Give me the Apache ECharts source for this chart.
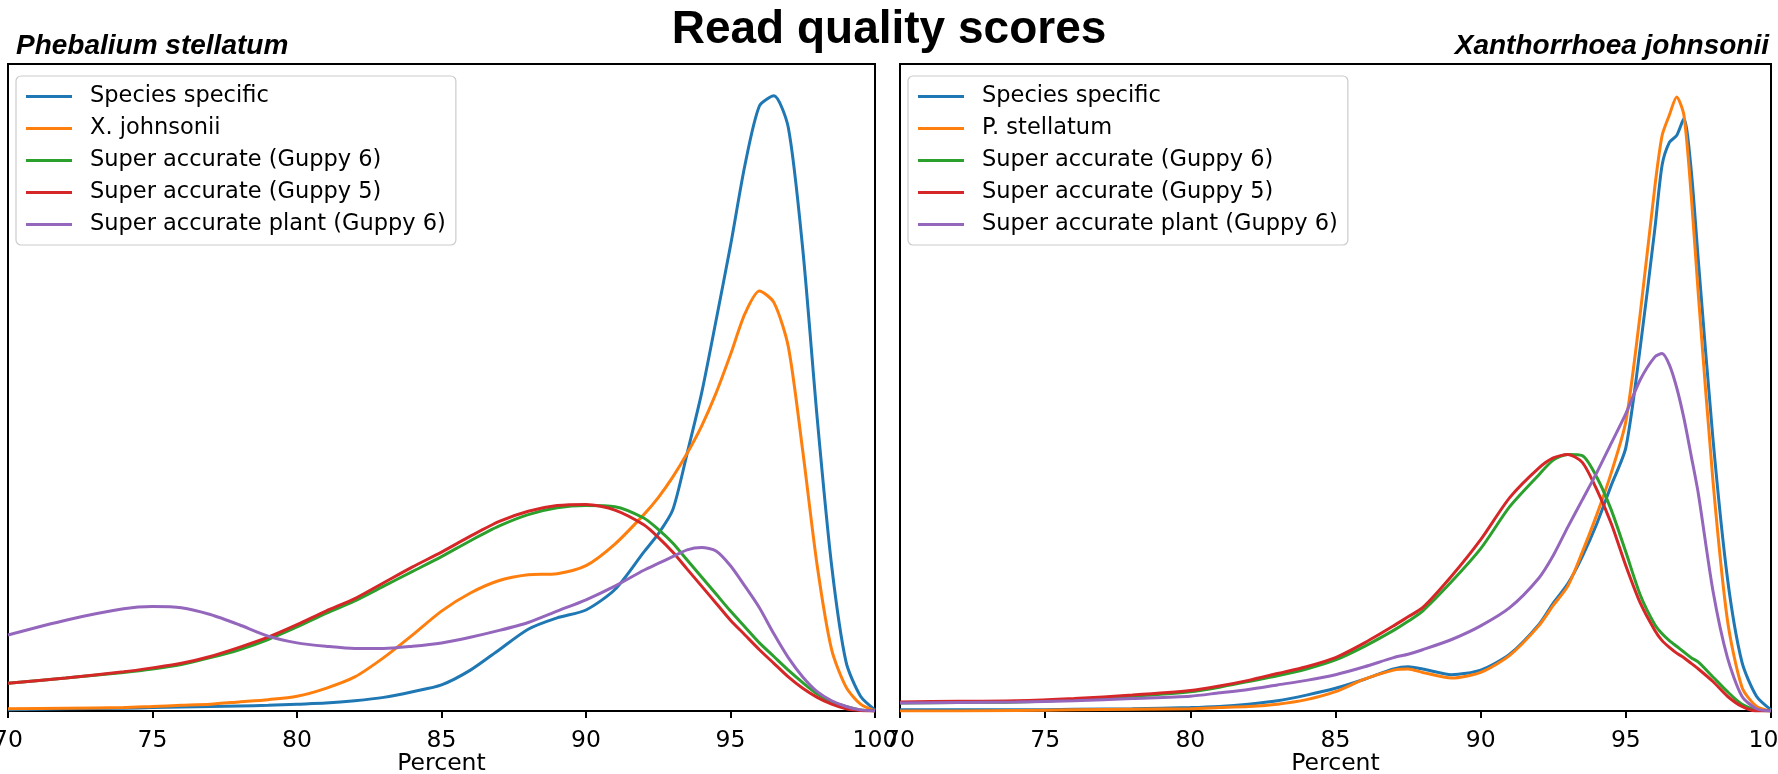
<!DOCTYPE html>
<html>
<head>
<meta charset="utf-8">
<script src="https://cdn.jsdelivr.net/npm/echarts@6/dist/echarts.min.js"></script>
<style>html,body{margin:0;padding:0;background:#fff;}#chart{width:1778px;height:774px;}</style>
</head>
<body>
<div id="chart"></div>
<script>
// ---- data ----
const mainTitle = "Read quality scores";
const leftTitle = "Phebalium stellatum";
const rightTitle = "Xanthorrhoea johnsonii";
const xTicks = [70, 75, 80, 85, 90, 95, 100];

const leftX = [70,72,74,75,76,77,78,79,80,81,82,83,84,85,86,87,88,89,90,91,92,92.5,93,93.5,94,94.5,95,95.5,96,96.5,97,97.5,98,98.5,99,99.5,100];
const leftSpecies = [0.01,0.02,0.025,0.03,0.035,0.04,0.045,0.05,0.06,0.07,0.09,0.12,0.17,0.23,0.36,0.54,0.72,0.82,0.89,1.07,1.40,1.56,1.77,2.27,2.8,3.44,4.1,4.81,5.33,5.42,5.14,4.07,2.58,1.28,0.43,0.13,0.01];
const leftXjohnsonii = [0.02,0.025,0.03,0.04,0.05,0.06,0.08,0.10,0.13,0.2,0.3,0.47,0.67,0.88,1.04,1.15,1.2,1.21,1.28,1.47,1.73,1.88,2.06,2.27,2.51,2.8,3.14,3.5,3.7,3.6,3.21,2.29,1.28,0.54,0.21,0.06,0.0];
const leftGuppy6 = [0.245,0.29,0.34,0.37,0.41,0.47,0.54,0.63,0.74,0.86,0.97,1.1,1.23,1.36,1.5,1.63,1.73,1.79,1.81,1.80,1.70,1.6,1.48,1.33,1.18,1.03,0.88,0.74,0.6,0.48,0.36,0.25,0.15,0.08,0.04,0.01,0];
const leftGuppy5 = [0.245,0.29,0.345,0.38,0.42,0.48,0.56,0.65,0.76,0.88,0.99,1.13,1.27,1.40,1.54,1.67,1.76,1.81,1.82,1.77,1.64,1.53,1.40,1.25,1.1,0.95,0.8,0.67,0.54,0.42,0.3,0.2,0.12,0.06,0.02,0.005,0];
const leftPlant = [0.67,0.8,0.9,0.92,0.91,0.85,0.76,0.66,0.6,0.57,0.55,0.55,0.57,0.6,0.65,0.71,0.78,0.88,0.98,1.1,1.24,1.3,1.36,1.42,1.44,1.41,1.28,1.1,0.91,0.68,0.47,0.3,0.17,0.09,0.04,0.01,0];

const rightX = [70,72,74,76,78,80,81,82,83,84,85,86,87,87.5,88,89,90,91,92,92.5,93,93.5,94,94.5,95,95.5,96,96.25,96.5,96.75,97,97.25,97.5,98,98.5,99,99.5,100];
const rightSpecies = [0.01,0.01,0.01,0.015,0.02,0.03,0.04,0.06,0.09,0.14,0.2,0.28,0.37,0.39,0.37,0.32,0.36,0.5,0.76,0.95,1.12,1.36,1.65,1.99,2.32,3.21,4.25,4.81,5.01,5.07,5.22,4.77,3.96,2.40,1.17,0.43,0.13,0.01];
const rightPstellatum = [0.0,0.0,0.005,0.01,0.015,0.02,0.03,0.04,0.06,0.10,0.17,0.28,0.36,0.37,0.34,0.29,0.34,0.49,0.75,0.93,1.10,1.40,1.73,2.10,2.55,3.51,4.62,5.07,5.25,5.41,5.25,4.55,3.66,2.03,0.80,0.21,0.04,0.0];
const rightGuppy6 = [0.07,0.075,0.08,0.1,0.13,0.17,0.21,0.26,0.31,0.37,0.45,0.57,0.71,0.79,0.88,1.14,1.43,1.8,2.08,2.21,2.26,2.25,2.06,1.77,1.40,1.02,0.76,0.68,0.62,0.57,0.52,0.47,0.43,0.3,0.17,0.06,0.01,0];
const rightGuppy5 = [0.08,0.085,0.09,0.11,0.14,0.18,0.22,0.27,0.33,0.39,0.47,0.6,0.75,0.83,0.91,1.19,1.51,1.88,2.14,2.23,2.26,2.19,1.95,1.65,1.28,0.95,0.71,0.62,0.56,0.51,0.47,0.42,0.37,0.26,0.13,0.04,0.0,0];
const rightPlant = [0.07,0.075,0.08,0.09,0.11,0.13,0.16,0.19,0.23,0.27,0.32,0.39,0.47,0.5,0.54,0.63,0.75,0.91,1.17,1.37,1.62,1.86,2.1,2.36,2.62,2.92,3.12,3.15,3.05,2.85,2.58,2.25,1.91,1.06,0.47,0.13,0.02,0];

const leftNames = ["Species specific","X. johnsonii","Super accurate (Guppy 6)","Super accurate (Guppy 5)","Super accurate plant (Guppy 6)"];
const rightNames = ["Species specific","P. stellatum","Super accurate (Guppy 6)","Super accurate (Guppy 5)","Super accurate plant (Guppy 6)"];
const colors = ["#1f77b4","#ff7f0e","#2ca02c","#d62728","#9467bd"];

// ---- build ----
const zip = (xs, ys) => xs.map((x, i) => [x, ys[i]]);
const leftData = [leftSpecies, leftXjohnsonii, leftGuppy6, leftGuppy5, leftPlant];
const rightData = [rightSpecies, rightPstellatum, rightGuppy6, rightGuppy5, rightPlant];

const tickFont = 'DejaVu Sans';
function xAxis(gi){
  return {
    type:'value', gridIndex: gi, min:70, max:100, interval:5,
    name:'Percent', nameLocation:'middle', nameGap:41, nameMoveOverlap:false,
    nameTextStyle:{fontFamily:tickFont, fontSize:23.5, color:'#000', verticalAlign:'top'},
    axisLine:{show:true, lineStyle:{color:'#000', width:2}},
    axisTick:{show:true, length:7, inside:false, lineStyle:{color:'#000', width:2}},
    axisLabel:{fontFamily:tickFont, fontSize:23.5, color:'#000', margin:18,
      formatter: v => xTicks.includes(v) ? String(v) : ''},
    splitLine:{show:false}
  };
}
function yAxis(gi){
  return {type:'value', gridIndex: gi, min:0, max:5.7,
    axisLine:{show:false}, axisTick:{show:false}, axisLabel:{show:false}, splitLine:{show:false}};
}
function legend(names, left){
  return {
    data: names, orient:'vertical', left: left, top: 76,
    icon:'rect', itemWidth:46, itemHeight:3, itemGap:9,
    padding:[9,10,9,10],
    backgroundColor:'rgba(255,255,255,0.8)', borderColor:'#cccccc', borderWidth:1.2, borderRadius:5,
    textStyle:{fontFamily:tickFont, fontSize:22.5, lineHeight:22, color:'#000', padding:[0,0,0,13]},
    selectedMode:false
  };
}
const series = [];
leftData.forEach((d, i) => series.push({
  name:leftNames[i], type:'line', xAxisIndex:0, yAxisIndex:0, data:zip(leftX, d),
  showSymbol:false, smooth:0.25, lineStyle:{width:3, color:colors[i]}, itemStyle:{color:colors[i]},
  animation:false, z: 2 + i
}));
rightData.forEach((d, i) => series.push({
  name:rightNames[i], type:'line', xAxisIndex:1, yAxisIndex:1, data:zip(rightX, d),
  showSymbol:false, smooth:0.25, lineStyle:{width:3, color:colors[i]}, itemStyle:{color:colors[i]},
  animation:false, z: 2 + i
}));

const chart = echarts.init(document.getElementById('chart'), null, {renderer:'canvas'});
chart.setOption({
  animation:false,
  backgroundColor:'#fff',
  title:[
    {text:mainTitle, left:'center', top:2, textStyle:{fontFamily:'Liberation Sans', fontWeight:'bold', fontSize:46, color:'#000'}},
    {text:leftTitle, left:11, top:27, textStyle:{fontFamily:'Liberation Sans', fontWeight:'bold', fontStyle:'italic', fontSize:28, color:'#000'}},
    {text:rightTitle, right:4, top:27, textStyle:{fontFamily:'Liberation Sans', fontWeight:'bold', fontStyle:'italic', fontSize:28, color:'#000'}}
  ],
  legend:[legend(leftNames, 16), legend(rightNames, 908)],
  grid:[
    {left:8, right:903, top:64, bottom:63, show:true, borderColor:'#000', borderWidth:2, containLabel:false, outerBoundsMode:'none'},
    {left:900, right:7, top:64, bottom:63, show:true, borderColor:'#000', borderWidth:2, containLabel:false, outerBoundsMode:'none'}
  ],
  xAxis:[xAxis(0), xAxis(1)],
  yAxis:[yAxis(0), yAxis(1)],
  series: series
});
</script>
</body>
</html>
